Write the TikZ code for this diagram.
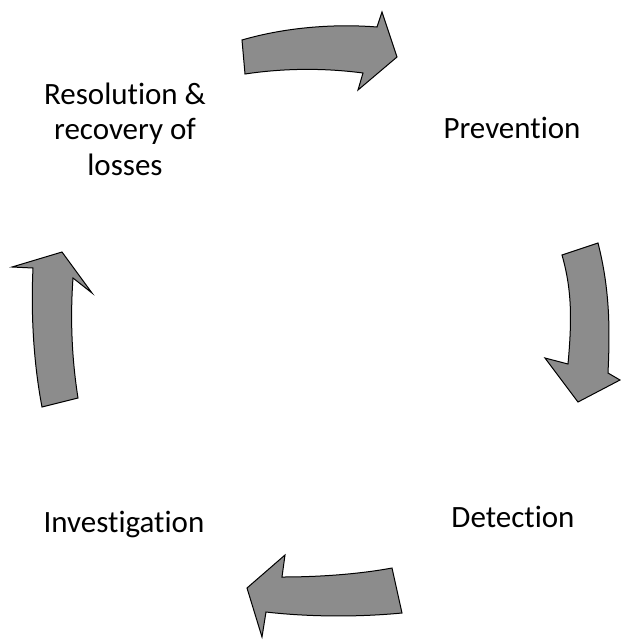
\documentclass[tikz,border=0pt]{standalone}
\usepackage{fontspec}
\setmainfont[Ligatures=NoCommon]{Carlito}
\begin{document}
\begin{tikzpicture}[x=1pt,y=-1pt,
  cyclearrow/.style={fill=black!45,draw=black,line width=1pt,line join=miter},
  label/.style={font=\fontsize{31}{35.5}\selectfont,align=center,inner sep=0pt}]
\useasboundingbox (0,0) rectangle (621,641);
% top arrow
\draw[cyclearrow] (242,40) .. controls (290,26) and (340,24) .. (377,27) -- (382,12) -- (397,57) -- (358,90) -- (363,73) .. controls (325,68) and (285,68) .. (245,74) -- cycle;
% right arrow
\draw[cyclearrow] (562,255) -- (598,243) .. controls (610,290) and (610,330) .. (608,373) -- (620,380) -- (578,402) -- (545,358) -- (568,364) .. controls (572,320) and (572,290) .. (562,255) -- cycle;
% bottom arrow
\draw[cyclearrow] (392,568) -- (402,613) .. controls (350,618) and (300,616) .. (266,612) -- (262,637) -- (247,588) -- (285,555) -- (282,577) .. controls (320,577) and (360,574) .. (392,568) -- cycle;
% left arrow
\draw[cyclearrow] (62,252) -- (92,293) -- (73,278) .. controls (70,320) and (72,360) .. (78,398) -- (42,407) .. controls (33,360) and (31,310) .. (33,268) -- (12,267) -- cycle;
% labels
\node[label,anchor=base] (res) at (125,175) {Resolution \&\\recovery of\\losses};
\node[label,anchor=base] (prev) at (512,138) {Prevention};
\node[label,anchor=base] (det) at (513,527) {Detection};
\node[label,anchor=base] (inv) at (124,532) {Investigation};
\end{tikzpicture}
\end{document}
